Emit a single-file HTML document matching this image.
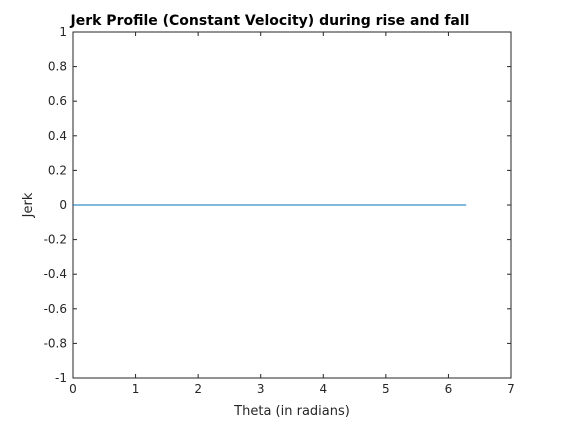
<!DOCTYPE html>
<html><head><meta charset="utf-8"><style>
body{margin:0;background:#fff;}
svg{display:block;font-family:"DejaVu Sans","Liberation Sans",sans-serif;}
</style></head><body>
<svg id="chart" width="565" height="424">
<rect width="565" height="424" fill="#fff"/>
<text x="270" y="25" text-anchor="middle" font-size="14" font-weight="bold" fill="#000">Jerk Profile (Constant Velocity) during rise and fall</text>
<text x="292" y="415" text-anchor="middle" font-size="13" fill="#262626">Theta (in radians)</text>
<text x="0" y="0" transform="translate(32,205) rotate(-90)" text-anchor="middle" font-size="13" fill="#262626">Jerk</text>
<g id="axes"></g>
</svg>
<script>
const xTicks=[0,1,2,3,4,5,6,7];
const yTicks=[-1,-0.8,-0.6,-0.4,-0.2,0,0.2,0.4,0.6,0.8,1];
const thetaValues=[0,0.5,1,1.5,2,2.5,3,3.5,4,4.5,5,5.5,6,6.2832];
const jerkValues=[0,0,0,0,0,0,0,0,0,0,0,0,0,0];
const L=73,R=511,T=32,B=378;
const sx=v=>L+(v-0)/(7-0)*(R-L);
const sy=v=>B-(v+1)/2*(B-T);
const g=document.getElementById('axes');
const NS='http://www.w3.org/2000/svg';
function mk(t,a){const e=document.createElementNS(NS,t);for(const k in a)e.setAttribute(k,a[k]);g.appendChild(e);return e;}
const box=mk('rect',{x:L,y:T,width:R-L,height:B-T,fill:'none',stroke:'#262626','stroke-width':1});


xTicks.forEach(v=>{const x=sx(v);
mk('line',{x1:x,x2:x,y1:B,y2:B-4,stroke:'#262626'});
mk('line',{x1:x,x2:x,y1:T,y2:T+4,stroke:'#262626'});
const t=mk('text',{x:x,y:B+15,'text-anchor':'middle','font-size':12,fill:'#262626'});t.textContent=v;

});
yTicks.forEach(v=>{const y=sy(v);
mk('line',{x1:L,x2:L+4,y1:y,y2:y,stroke:'#262626'});
mk('line',{x1:R,x2:R-4,y1:y,y2:y,stroke:'#262626'});
const t=mk('text',{x:L-6,y:y+4,'text-anchor':'end','font-size':12,fill:'#262626'});t.textContent=String(Math.round(v*10)/10);

});
const line=mk('polyline',{points:thetaValues.map((x,i)=>sx(x)+','+sy(jerkValues[i])).join(' '),fill:'none',stroke:'#0072BD','stroke-width':1});


</script>
</body></html>
